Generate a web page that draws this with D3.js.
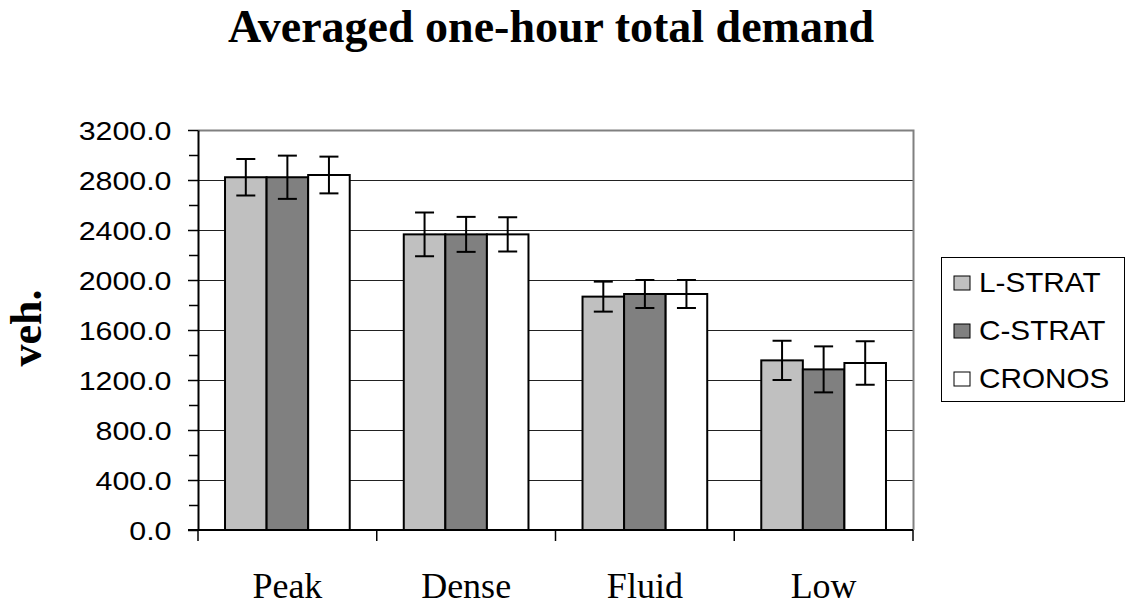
<!DOCTYPE html>
<html><head><meta charset="utf-8">
<script src="https://cdn.jsdelivr.net/npm/d3@7"></script>
<style>body{margin:0;background:#fff}svg{display:block}</style></head>
<body>
<svg id="c" width="1126" height="607"></svg>
<script>
const categories = ["Peak", "Dense", "Fluid", "Low"];
const seriesNames = ["L-STRAT", "C-STRAT", "CRONOS"];
const lstrat = [2822, 2365, 1867, 1357];
const cstrat = [2822, 2365, 1888, 1285];
const cronos = [2840, 2365, 1888, 1336];
const lstratErr = [146, 175, 120, 157];
const cstratErr = [173, 140, 112, 184];
const cronosErr = [147, 137, 112, 174];
const yMajorTicks = [0, 400, 800, 1200, 1600, 2000, 2400, 2800, 3200];
const yMinorTicks = [200, 600, 1000, 1400, 1800, 2200, 2600, 3000];
const colors = ["#C0C0C0", "#808080", "#FFFFFF"];
const title = "Averaged one-hour total demand";
const yLabel = "veh.";

const values = [lstrat, cstrat, cronos];
const errs = [lstratErr, cstratErr, cronosErr];
const data = [];
categories.forEach((c, i) => seriesNames.forEach((s, j) => {
  data.push({cat: c, ser: s, v: values[j][i], e: errs[j][i], color: colors[j]});
}));

const svg = d3.select("#c");
const L = 198, R = 913, T = 130, B = 530;
const x = d3.scaleBand().domain(categories).range([L, R]).padding(0);
const bw = x.bandwidth();
const w = bw / (3 + 1.3);
const xs = d3.scaleBand().domain(seriesNames).range([0.65 * w, bw - 0.65 * w]).padding(0);
const y = d3.scaleLinear().domain([0, 3200]).range([B, T]);

// gridlines
svg.append("g").selectAll("line").data(yMajorTicks.filter(d => d > 0 && d < 3200)).join("line")
  .attr("x1", L).attr("x2", R).attr("y1", d => Math.round(y(d)) + 0.5).attr("y2", d => Math.round(y(d)) + 0.5)
  .attr("stroke", "#222").attr("stroke-width", 1.2);
// plot border (top/right gray)
svg.append("path")
  .attr("d", `M${L},${T + 0.5}H${R + 0.5}V${B}`)
  .attr("fill", "none").attr("stroke", "#808080").attr("stroke-width", 2);

// bars
svg.append("g").selectAll("rect").data(data).join("rect")
  .attr("x", d => x(d.cat) + xs(d.ser))
  .attr("y", d => y(d.v))
  .attr("width", xs.bandwidth())
  .attr("height", d => y(0) - y(d.v))
  .attr("fill", d => d.color)
  .attr("stroke", "#000").attr("stroke-width", 2);

// error bars
const eg = svg.append("g").attr("stroke", "#000").attr("stroke-width", 2);
const cx = d => x(d.cat) + xs(d.ser) + xs.bandwidth() / 2;
eg.selectAll(".v").data(data).join("line")
  .attr("x1", cx).attr("x2", cx).attr("y1", d => y(d.v + d.e)).attr("y2", d => y(d.v - d.e));
eg.selectAll(".t").data(data).join("line")
  .attr("x1", d => cx(d) - 9.5).attr("x2", d => cx(d) + 9.5).attr("y1", d => y(d.v + d.e)).attr("y2", d => y(d.v + d.e));
eg.selectAll(".b").data(data).join("line")
  .attr("x1", d => cx(d) - 9.5).attr("x2", d => cx(d) + 9.5).attr("y1", d => y(d.v - d.e)).attr("y2", d => y(d.v - d.e));

// y axis
const yAxis = svg.append("g").attr("transform", `translate(${L},0)`)
  .call(d3.axisLeft(y).tickValues(yMajorTicks).tickSize(10).tickSizeOuter(0).tickFormat(d3.format(".1f")));
yAxis.select(".domain").attr("stroke", "#000").attr("stroke-width", 2);
yAxis.selectAll(".tick line").attr("stroke", "#000").attr("stroke-width", 1.5);
yAxis.selectAll(".tick text").attr("font-family", "'Liberation Sans', Arial, sans-serif")
  .attr("font-size", 25.5).attr("fill", "#000").attr("x", 0).attr("dy", null)
  .attr("transform", "translate(-26.5,9) scale(1.19,1)");
const yMinor = svg.append("g").attr("transform", `translate(${L},0)`)
  .call(d3.axisLeft(y).tickValues(yMinorTicks).tickSize(9).tickFormat(""));
yMinor.select(".domain").remove();
yMinor.selectAll(".tick line").attr("stroke", "#000").attr("stroke-width", 1.5);

// x axis
const bounds = categories.map(c => x(c)).concat([R]);
svg.append("line").attr("x1", L - 10).attr("x2", R).attr("y1", B).attr("y2", B)
  .attr("stroke", "#000").attr("stroke-width", 2);
svg.append("g").selectAll("line").data(bounds).join("line")
  .attr("x1", d => d).attr("x2", d => d).attr("y1", B).attr("y2", B + 11)
  .attr("stroke", "#000").attr("stroke-width", 1.5);
svg.append("g").selectAll("text").data(categories).join("text")
  .attr("x", d => x(d) + bw / 2).attr("y", 598)
  .attr("text-anchor", "middle")
  .attr("font-family", "'Liberation Serif', 'Times New Roman', serif")
  .attr("font-size", 36).text(d => d);

// title
svg.append("text").attr("x", 551).attr("y", 42).attr("text-anchor", "middle")
  .attr("font-family", "'Liberation Serif', 'Times New Roman', serif")
  .attr("font-weight", "bold").attr("font-size", 46).text(title);
// y label
svg.append("text").attr("transform", "translate(41,328) rotate(-90)").attr("text-anchor", "middle")
  .attr("font-family", "'Liberation Serif', 'Times New Roman', serif")
  .attr("font-weight", "bold").attr("font-size", 44).text(yLabel);

// legend
const lg = svg.append("g");
lg.append("rect").attr("x", 941.5).attr("y", 257.5).attr("width", 183).attr("height", 144)
  .attr("fill", "#fff").attr("stroke", "#000").attr("stroke-width", 1);
const ly = d3.scalePoint().domain(seriesNames).range([282, 378]);
const items = lg.selectAll(".it").data(seriesNames.map((s, j) => ({s, c: colors[j]}))).join("g")
  .attr("transform", d => `translate(0,${ly(d.s)})`);
items.append("rect").attr("x", 954).attr("y", -6).attr("width", 16).attr("height", 14)
  .attr("fill", d => d.c).attr("stroke", "#000").attr("stroke-width", 1);
items.append("text").attr("transform", "translate(979,10) scale(1.1,1)")
  .attr("font-family", "'Liberation Sans', Arial, sans-serif").attr("font-size", 27)
  .text(d => d.s);
</script>
</body></html>
